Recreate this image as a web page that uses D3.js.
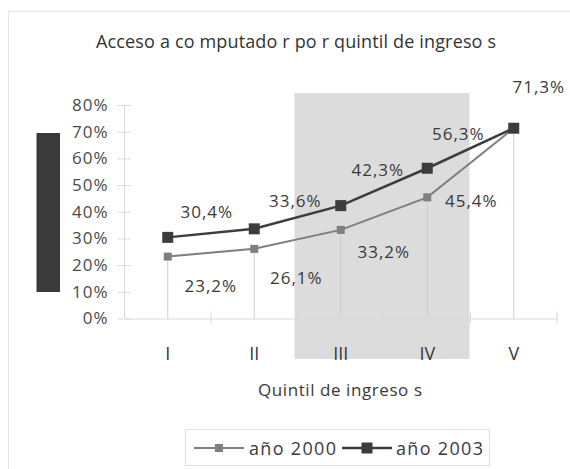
<!DOCTYPE html>
<html>
<head>
<meta charset="utf-8">
<script src="https://cdn.jsdelivr.net/npm/d3@7"></script>
<style>
  body { margin: 0; background: #fff; }
  text { font-family: "Open Sans", sans-serif; }
</style>
</head>
<body>
<script>
// data
var quintiles = ['I', 'II', 'III', 'IV', 'V'];
var anio2000 = [0.232, 0.261, 0.332, 0.454, 0.713];
var anio2003 = [0.304, 0.336, 0.423, 0.563, 0.713];
var yTicks = [0, 0.1, 0.2, 0.3, 0.4, 0.5, 0.6, 0.7, 0.8];
var seriesNames = ['año 2000', 'año 2003'];

// label offsets from the point (layout only)
var off2000 = [[43, 29], [42, 29], [43, 22], [44, 3], null];
var off2003 = [[39, -26], [41, -28], [37, -36], [31, -35], [25, -42]];

var fmt = function (d) { return d3.format('.1f')(d * 100).replace('.', ',') + '%'; };

var svg = d3.select('body').append('svg')
            .attr('width', 570)
            .attr('height', 469);

// outer frame
svg.append('rect')
   .attr('x', 8.5).attr('y', 11.5)
   .attr('width', 700).attr('height', 600)
   .style('fill', '#fff')
   .style('stroke', '#e4e4e4');

var x = d3.scaleBand().domain(quintiles).range([124.5, 557]);
var y = d3.scaleLinear().domain([0, 0.8]).range([318.5, 105]);
var cx = function (d, i) { return x(quintiles[i]) + x.bandwidth() / 2; };

// shaded block III-IV
svg.append('rect')
   .attr('x', x('III') - 3)
   .attr('y', 93)
   .attr('width', x('V') - x('III') + 2)
   .attr('height', 266)
   .style('fill', '#dcdcdc');

// dark block on the left
svg.append('rect')
   .attr('x', 36.5).attr('y', 133)
   .attr('width', 23.5).attr('height', 159)
   .style('fill', '#3a3a3a');

// title
svg.append('text')
   .attr('x', 296).attr('y', 48)
   .attr('text-anchor', 'middle')
   .attr('textLength', 400)
   .attr('lengthAdjust', 'spacing')
   .style('font-size', '18px')
   .style('fill', '#333')
   .text('Acceso a co mputado r po r quintil de ingreso s');

// y axis
var yAxis = svg.append('g')
   .attr('transform', 'translate(124.5,0)')
   .call(d3.axisLeft(y).tickValues(yTicks).tickFormat(function (d) { return Math.round(d * 100) + '%'; }));
yAxis.select('.domain').style('stroke', '#d9d9d9').attr('d', 'M0,' + y(0.8) + 'V' + y(0));
yAxis.selectAll('.tick line').attr('x1', -7).attr('x2', 6).style('stroke', '#d9d9d9');
yAxis.selectAll('.tick text')
     .attr('x', -16)
     .style('font-size', '17px')
     .style('letter-spacing', '1px')
     .style('fill', '#4a4a4a');

// x axis
var xAxis = svg.append('g')
   .attr('transform', 'translate(0,' + y(0) + ')')
   .call(d3.axisBottom(x).tickSize(0));
xAxis.select('.domain').style('stroke', '#d9d9d9');
xAxis.selectAll('.tick text')
     .attr('y', 0).attr('dy', 0)
     .attr('transform', 'translate(0,41)')
     .style('font-size', '18px')
     .style('fill', '#3a3a3a');
svg.append('g').selectAll('line')
   .data(quintiles.slice(1).map(function (q) { return x(q); }).concat([x.range()[1]]))
   .enter().append('line')
   .attr('x1', function (d) { return d; })
   .attr('x2', function (d) { return d; })
   .attr('y1', y(0) - 7)
   .attr('y2', y(0) + 5)
   .style('stroke', '#d9d9d9');

svg.append('text')
   .attr('x', 340).attr('y', 396)
   .attr('text-anchor', 'middle')
   .attr('textLength', 164)
   .attr('lengthAdjust', 'spacing')
   .style('font-size', '17px')
   .style('fill', '#3a3a3a')
   .text('Quintil de ingreso s');

// drop lines
svg.append('g').selectAll('line')
   .data(anio2000)
   .enter().append('line')
   .attr('x1', cx).attr('x2', cx)
   .attr('y1', function (d) { return y(d); })
   .attr('y2', y(0))
   .style('stroke', '#cfcfcf')
   .style('stroke-width', 1);

var line = d3.line().x(cx).y(function (d) { return y(d); });

// series 2000
svg.append('path').datum(anio2000)
   .attr('d', line)
   .style('fill', 'none')
   .style('stroke', '#7f7f7f')
   .style('stroke-width', 2);
svg.append('g').selectAll('rect')
   .data(anio2000)
   .enter().append('rect')
   .attr('x', function (d, i) { return cx(d, i) - 4; })
   .attr('y', function (d) { return y(d) - 4; })
   .attr('width', 8).attr('height', 8)
   .style('fill', '#7f7f7f');

// series 2003
svg.append('path').datum(anio2003)
   .attr('d', line)
   .style('fill', 'none')
   .style('stroke', '#3c3c3c')
   .style('stroke-width', 2.5);
svg.append('g').selectAll('rect')
   .data(anio2003)
   .enter().append('rect')
   .attr('x', function (d, i) { return cx(d, i) - 5.5; })
   .attr('y', function (d) { return y(d) - 5.5; })
   .attr('width', 11).attr('height', 11)
   .style('fill', '#3c3c3c');

// data labels
function labels(vals, offs) {
  svg.append('g').selectAll('text')
     .data(vals.map(function (v, i) { return { v: v, i: i }; }).filter(function (d) { return offs[d.i]; }))
     .enter().append('text')
     .attr('x', function (d) { return cx(d.v, d.i) + offs[d.i][0]; })
     .attr('y', function (d) { return y(d.v) + offs[d.i][1]; })
     .attr('text-anchor', 'middle')
     .attr('dominant-baseline', 'central')
     .style('font-size', '17px')
     .style('letter-spacing', '1px')
     .style('fill', '#3a3a3a')
     .text(function (d) { return fmt(d.v); });
}
labels(anio2000, off2000);
labels(anio2003, off2003);

// legend
var lg = svg.append('g');
lg.append('rect')
  .attr('x', 185.5).attr('y', 429.5)
  .attr('width', 304).attr('height', 36)
  .style('fill', '#fff')
  .style('stroke', '#e0e0e0');
var legendItems = [
  { name: seriesNames[0], x0: 194, color: '#7f7f7f', size: 8, w: 2, tx: 249 },
  { name: seriesNames[1], x0: 342, color: '#3c3c3c', size: 11, w: 2.5, tx: 396 }
];
legendItems.forEach(function (it) {
  lg.append('line')
    .attr('x1', it.x0).attr('x2', it.x0 + 50)
    .attr('y1', 448).attr('y2', 448)
    .style('stroke', it.color).style('stroke-width', it.w);
  lg.append('rect')
    .attr('x', it.x0 + 25 - it.size / 2).attr('y', 448 - it.size / 2)
    .attr('width', it.size).attr('height', it.size)
    .style('fill', it.color);
  lg.append('text')
    .attr('x', it.tx).attr('y', 455)
    .attr('textLength', 87)
    .attr('lengthAdjust', 'spacing')
    .style('font-size', '18px')
    .style('fill', '#3a3a3a')
    .text(it.name);
});
</script>
</body>
</html>
